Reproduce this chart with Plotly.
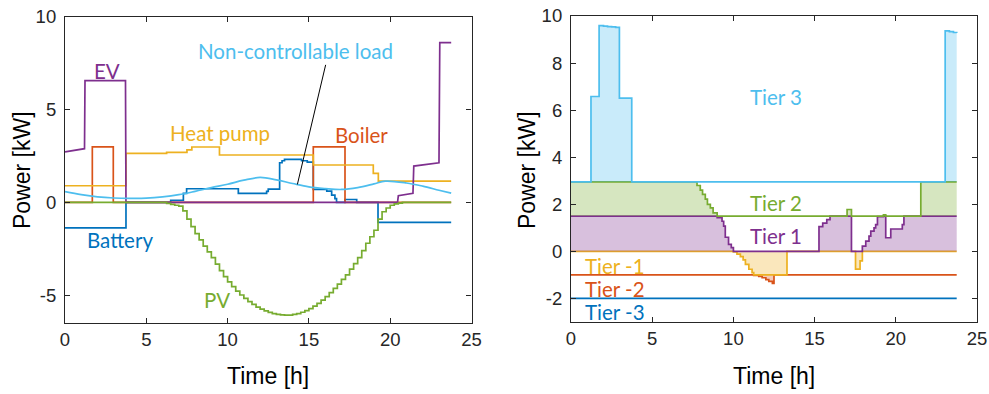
import plotly.graph_objects as go
import numpy as np

# ---------------- Left panel data (kW vs hour) ----------------
ev_t = [0, 1.2, 1.23, 3.72, 3.75, 20.45, 20.5, 21.4, 21.45, 23.0, 23.05, 23.75]
ev_kw = [2.73, 2.9, 6.57, 6.57, 0, 0, 0.36, 0.49, 1.96, 2.14, 8.62, 8.62]

boiler_t = [0, 1.68, 2.97, 15.27, 17.22, 23.75]
boiler_kw = [0, 3.0, 0, 3.0, 0, 0]

hp_t = [0, 3.75, 6.25, 7.5, 7.8, 9.5, 15.27, 18.96, 19.27, 23.75]
hp_kw = [0.9, 2.65, 2.7, 2.84, 2.99, 2.56, 2.02, 1.57, 1.15, 1.15]

bat_t = [0, 3.75, 6.5, 7.28, 7.48, 10.66, 12.4, 12.5, 13.2, 13.35, 13.5, 14.55,
         14.9, 15.27, 16.1, 16.4, 16.6, 16.7, 17.22, 17.94, 19.25, 23.75]
bat_kw = [-1.37, 0, 0.12, 0.49, 0.74, 0.49, 0.6, 0.72, 2.14, 2.25, 2.32, 2.25,
          2.18, 0.7, 0.61, 0.39, 0.21, 0, 0.16, 0, -1.07, -1.07]

ncl_t = [0, 1, 2, 3, 4, 5, 6, 7, 8, 9, 10, 11, 12, 13, 14, 15, 16, 17, 18, 19,
         19.7, 21, 22, 23, 23.75]
ncl_kw = [0.58, 0.42, 0.3, 0.24, 0.22, 0.23, 0.3, 0.42, 0.6, 0.8, 0.98, 1.2, 1.35,
          1.22, 1.02, 0.84, 0.75, 0.7, 0.8, 1.0, 1.15, 1.05, 0.88, 0.66, 0.5]

pv_t = [6 + 0.25 * i for i in range(61)] + [23.75]
pv_kw = [0, -0.05, -0.1, -0.15, -0.2, -0.45, -0.9, -1.3, -1.68, -2.02, -2.35, -2.66,
         -2.98, -3.33, -3.68, -4.0, -4.28, -4.54, -4.78, -4.99, -5.17, -5.35, -5.5,
         -5.64, -5.75, -5.85, -5.93, -5.99, -6.03, -6.06, -6.07, -6.07, -6.04, -5.99,
         -5.92, -5.83, -5.72, -5.59, -5.44, -5.27, -5.08, -4.86, -4.63, -4.4, -4.15,
         -3.9, -3.6, -3.3, -2.98, -2.6, -2.2, -1.85, -1.5, -0.9, -0.5, -0.3, -0.15,
         -0.08, -0.04, 0, 0, 0]
pv_t = [0] + pv_t
pv_kw = [0] + pv_kw

# ---------------- Right panel data (net load, kW) ----------------
net_t = [0, 1.23, 1.73, 2.0, 2.25, 2.5, 2.75, 2.98, 3.74, 7.76, 7.96, 8.1, 8.27,
         8.4, 8.58, 8.75, 9.0, 9.3, 9.4, 9.5, 9.7, 9.87, 10.0, 10.22, 10.43, 10.6,
         10.74, 10.95, 11.15, 11.25, 11.56, 11.77, 12.0, 12.18, 12.4, 12.5, 13.3,
         15.27, 15.5, 15.75, 15.95, 17.0, 17.27, 17.52, 17.8, 17.94, 18.15, 18.35,
         18.46, 18.66, 18.76, 18.87, 19.24, 19.38, 19.69, 20.4, 20.5, 21.54, 23.04,
         23.3, 23.55, 23.75]
net_kw = [2.95, 6.58, 9.59, 9.57, 9.55, 9.54, 9.52, 6.51, 2.95, 2.8, 2.6, 2.42,
          2.22, 2.0, 1.85, 1.64, 1.43, 1.28, 1.07, 0.6, 0.3, 0.16, -0.02, -0.12,
          -0.22, -0.36, -0.55, -0.76, -0.9, -1.02, -1.06, -1.12, -1.2, -1.27, -1.36,
          -1.0, 0, 1.05, 1.2, 1.35, 1.5, 1.78, 0, -0.75, -0.4, 0.22, 0.44, 0.65,
          0.86, 1.0, 1.14, 1.48, 1.55, 0.58, 0.95, 1.14, 1.5, 2.95, 9.37, 9.34, 9.3, 9.28]

tier_bounds = [2.95, 1.5, 0.0, -1.0, -2.0]
tier_labels = ["Tier 3", "Tier 2", "Tier 1", "Tier -1", "Tier -2", "Tier -3"]

C_BLUE = "#0072BD"
C_ORANGE = "#D95319"
C_YELLOW = "#EDB120"
C_PURPLE = "#7E2F8E"
C_GREEN = "#77AC30"
C_LBLUE = "#4DBEEE"

LABEL_FONT = "Lato"
LABEL_SIZE = 20.5
TICK_FONT = "Liberation Sans"
AX_COL = "#262626"
LW = 1.7

fig = go.Figure()

# ---- left panel traces (MATLAB colour order) ----
left = [
    (bat_t, bat_kw, C_BLUE, "hv"),
    (boiler_t, boiler_kw, C_ORANGE, "hv"),
    (hp_t, hp_kw, C_YELLOW, "hv"),
    (ev_t, ev_kw, C_PURPLE, "linear"),
    (pv_t, pv_kw, C_GREEN, "hv"),
    (ncl_t, ncl_kw, C_LBLUE, "spline"),
]
for t, v, c, shp in left:
    fig.add_trace(go.Scatter(x=t, y=v, mode="lines", line=dict(color=c, width=LW, shape=shp),
                             xaxis="x", yaxis="y", showlegend=False, hoverinfo="skip"))

# ---- right panel tiers ----
net = np.array(net_kw)
T3, T2, T1, Tm1, Tm2 = tier_bounds
tiers = [
    (Tm2, np.minimum(net, Tm2), C_BLUE, None),
    (Tm1, np.clip(net, Tm2, Tm1), C_ORANGE, "rgba(217,83,25,0.3)"),
    (T1, np.clip(net, Tm1, T1), C_YELLOW, "rgba(237,177,32,0.3)"),
    (T1, np.clip(net, T1, T2), C_PURPLE, "rgba(126,47,142,0.3)"),
    (T2, np.clip(net, T2, T3), C_GREEN, "rgba(119,172,48,0.3)"),
    (T3, np.maximum(net, T3), C_LBLUE, "rgba(77,190,238,0.3)"),
]
for base, curve, c, fc in tiers:
    if fc is not None:
        fig.add_trace(go.Scatter(x=net_t, y=[base] * len(net_t), mode="lines",
                                 line=dict(width=0, color=c, shape="hv"),
                                 xaxis="x2", yaxis="y2", showlegend=False, hoverinfo="skip"))
        fig.add_trace(go.Scatter(x=net_t, y=curve, mode="lines", fill="tonexty", fillcolor=fc,
                                 line=dict(color=c, width=LW, shape="hv"),
                                 xaxis="x2", yaxis="y2", showlegend=False, hoverinfo="skip"))
    else:
        fig.add_trace(go.Scatter(x=net_t, y=curve, mode="lines",
                                 line=dict(color=c, width=LW, shape="hv"),
                                 xaxis="x2", yaxis="y2", showlegend=False, hoverinfo="skip"))

axis_common = dict(showline=True, linecolor=AX_COL, linewidth=1.2, mirror="ticks",
                   ticks="inside", ticklen=5, tickcolor=AX_COL, tickwidth=1.2,
                   showgrid=False, zeroline=False, automargin=False,
                   tickfont=dict(family=TICK_FONT, size=18.5, color=AX_COL))

xt = [0, 5, 10, 15, 20, 25]
fig.update_layout(
    width=989, height=394,
    margin=dict(l=0, r=0, t=0, b=0, pad=0),
    paper_bgcolor="white", plot_bgcolor="white",
    xaxis=dict(domain=[65 / 989, 471.5 / 989], range=[0, 25], tickvals=xt,
               ticktext=[str(v) for v in xt], anchor="y", **axis_common),
    yaxis=dict(domain=[1 - 323 / 394, 1 - 17 / 394], range=[-6.5, 10],
               tickvals=[-5, 0, 5, 10], ticktext=["-5", "0", "5", "10"], anchor="x",
               ticklabelstandoff=4, **axis_common),
    xaxis2=dict(domain=[571 / 989, 977 / 989], range=[0, 25], tickvals=xt,
                ticktext=[str(v) for v in xt], anchor="y2", **axis_common),
    yaxis2=dict(domain=[1 - 322 / 394, 1 - 16 / 394], range=[-3, 10],
                tickvals=[-2, 0, 2, 4, 6, 8, 10],
                ticktext=["-2", "0", "2", "4", "6", "8", "10"], anchor="x2",
                ticklabelstandoff=4, **axis_common),
)

ann = []
def lab(text, x, y, color, xref="x", yref="y"):
    ann.append(dict(text=text, x=x, y=y, xref=xref, yref=yref, showarrow=False,
                    xanchor="center", yanchor="middle",
                    font=dict(family=LABEL_FONT, size=LABEL_SIZE, color=color)))

lab("EV", 2.56, 7.1, C_PURPLE)
lab("Non-controllable load", 14.15, 8.14, C_LBLUE)
lab("Heat pump", 9.53, 3.73, C_YELLOW)
lab("Boiler", 18.24, 3.64, C_ORANGE)
lab("Battery", 3.38, -2.04, C_BLUE)
lab("PV", 9.33, -5.28, C_GREEN)

lab("Tier 3", 12.6, 6.54, C_LBLUE, "x2", "y2")
lab("Tier 2", 12.6, 2.07, C_GREEN, "x2", "y2")
lab("Tier 1", 12.6, 0.65, C_PURPLE, "x2", "y2")
lab("Tier -1", 2.72, -0.6, C_YELLOW, "x2", "y2")
lab("Tier -2", 2.72, -1.59, C_ORANGE, "x2", "y2")
lab("Tier -3", 2.72, -2.58, C_BLUE, "x2", "y2")

def title(text, x, y, angle=0):
    ann.append(dict(text=text, x=x / 989, y=1 - y / 394, xref="paper", yref="paper",
                    showarrow=False, textangle=angle, xanchor="center", yanchor="middle",
                    font=dict(family=TICK_FONT, size=23, color="#000000")))

title("Time [h]", 268, 376)
title("Time [h]", 774, 376)
title("Power [kW]", 22, 170, -90)
title("Power [kW]", 527, 170, -90)

fig.update_layout(annotations=ann)

fig.add_shape(type="line", xref="x", yref="y", x0=16.03, y0=7.42, x1=14.29, y1=0.97,
              line=dict(color="#000000", width=1))

fig.write_html("out.html", config={"displayModeBar": False},
               post_script="document.body.style.margin='0px';document.body.style.overflow='hidden';")
